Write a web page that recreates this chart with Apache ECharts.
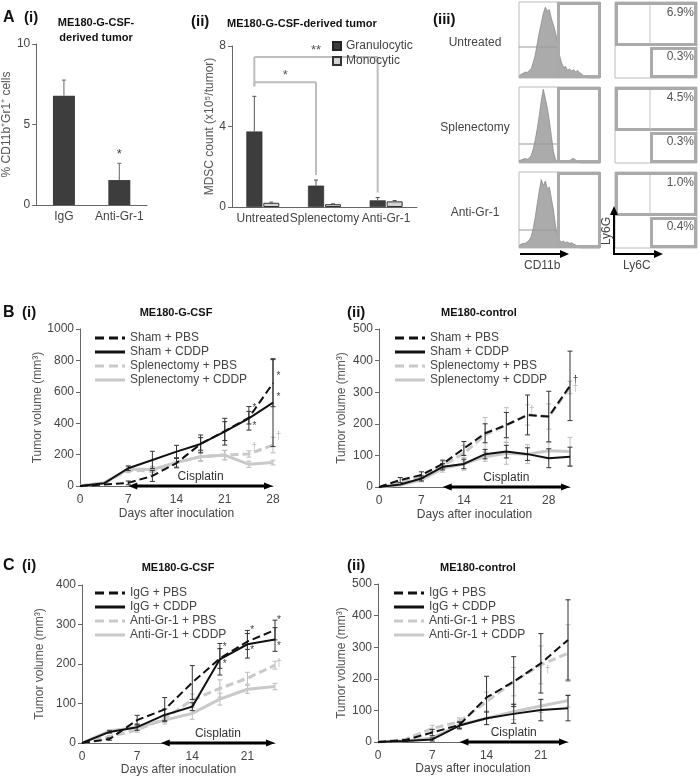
<!DOCTYPE html>
<html><head><meta charset="utf-8">
<script src="https://cdn.jsdelivr.net/npm/echarts@6/dist/echarts.min.js"></script>
<style>html,body{margin:0;padding:0;background:#fff}#c{width:700px;height:779px}</style>
</head><body><div id="c"></div>
<script>
// ================= DATA =================
// A(i)
const aiCategories = ['IgG', 'Anti-Gr-1'];
const aiValues = [6.79, 1.55];
const aiErrTop = [7.76, 2.59];
const aiSignif = ['', '*'];
// A(ii)
const aiiCategories = ['Untreated', 'Splenectomy', 'Anti-Gr-1'];
const aiiGranulocytic = [3.75, 1.06, 0.33];
const aiiGranErrTop = [5.5, 1.34, 0.47];
const aiiMonocytic = [0.21, 0.14, 0.28];
const aiiMonoErrTop = [0.24, 0.16, 0.32];
// brackets: [fromCategory, toCategory, level, label]
const aiiBrackets = [[0, 1, 6.2, '*'], [0, 2, 7.45, '**']];
// A(iii) flow cytometry
const facsGroups = ['Untreated', 'Splenectomy', 'Anti-Gr-1'];
const histChannels = [0,1,2,3,4,5,6,7,8,9,10,11,12,13,14,15,16,17,18,19,20,21,22,23,24,25,26,27,28,29,30,31,32,33,34,35,36,37,38,39,40];
const histUntreated = [0.02,0.05,0.06,0.08,0.07,0.1,0.12,0.2,0.3,0.45,0.6,0.72,0.85,0.93,0.88,0.9,0.78,0.7,0.6,0.48,0.3,0.2,0.14,0.15,0.1,0.12,0.09,0.11,0.08,0.1,0.07,0.05,0.03,0.01,0,0,0,0,0,0,0];
const histSplenectomy = [0.03,0.04,0.05,0.06,0.05,0.06,0.1,0.18,0.3,0.45,0.62,0.82,0.97,0.85,0.72,0.55,0.35,0.15,0.05,0.02,0.02,0.01,0.01,0.01,0.01,0.03,0.05,0.06,0.04,0.02,0,0,0,0,0,0,0,0,0,0,0];
const histAntiGr1 = [0.03,0.05,0.06,0.06,0.08,0.1,0.15,0.25,0.4,0.58,0.75,0.9,0.82,0.88,0.78,0.8,0.65,0.5,0.3,0.15,0.1,0.08,0.09,0.07,0.08,0.06,0.07,0.05,0.04,0.02,0,0,0,0,0,0,0,0,0,0,0];
const pctLy6G = ['6.9%', '4.5%', '1.0%'];
const pctLy6C = ['0.3%', '0.3%', '0.4%'];
// B(i) ME180-G-CSF
const bDaysG = [0, 3.5, 7, 10.5, 14, 17.5, 21, 24.5, 28];
const bG_shamPBS = [0, 10, 20, 64, 146, 268, 350, 435, 655];
const bG_shamPBS_err = [0, 0, 12, 35, 30, 40, 60, 40, 150];
const bG_shamCDDP = [0, 17, 113, 166, 219, 268, 346, 431, 531];
const bG_shamCDDP_err = [0, 0, 15, 55, 40, 57, 85, 75, 280];
const bG_splPBS = [0, 20, 100, 95, 150, 187, 197, 204, 261];
const bG_splPBS_err = [0, 0, 15, 25, 30, 30, 30, 20, 50];
const bG_splCDDP = [0, 20, 108, 105, 150, 187, 197, 138, 149];
const bG_splCDDP_err = [0, 0, 15, 20, 25, 25, 30, 20, 15];
const bG_annotations = [[28.8, 700, '*', 'k'], [28.8, 565, '*', 'k'], [25.3, 495, '*', 'k'], [25.3, 382, '*', 'k'], [25.3, 250, '†', 'g'], [28.8, 314, '†', 'g']];
const bG_cisplatin = [7, 28];
// B(ii) ME180-control
const bDaysC = [0, 3.5, 7, 10.5, 14, 17.5, 21, 24.5, 28, 31.5];
const bC_shamPBS = [0, 22, 38, 73, 122, 170, 196, 228, 223, 320];
const bC_shamPBS_err = [0, 8, 10, 12, 22, 30, 40, 63, 80, 110];
const bC_shamCDDP = [0, 8, 27, 64, 73, 104, 112, 104, 91, 96];
const bC_shamCDDP_err = [0, 0, 8, 10, 15, 15, 20, 20, 30, 30];
const bC_splPBS = [0, 15, 30, 68, 107, 165, 196, 228, 223, 315];
const bC_splPBS_err = [0, 0, 8, 12, 25, 55, 55, 32, 40, 20];
const bC_splCDDP = [0, 6, 22, 59, 73, 96, 107, 104, 115, 112];
const bC_splCDDP_err = [0, 0, 6, 12, 20, 15, 35, 30, 25, 45];
const bC_annotations = [[32.4, 339, '†', 'k'], [32.4, 313, '†', 'g'], [25.2, 244, '†', 'g']];
const bC_cisplatin = [10.5, 31.5];
// C(i) ME180-G-CSF
const cDays = [0, 3.5, 7, 10.5, 14, 17.5, 21, 24.5];
const cG_igPBS = [0, 10, 58, 85, 153, 214, 257, 286];
const cG_igPBS_err = [0, 3, 12, 30, 43, 25, 20, 25];
const cG_igCDDP = [0, 28, 40, 71, 92, 212, 250, 262];
const cG_igCDDP_err = [0, 3, 8, 15, 10, 40, 35, 30];
const cG_agPBS = [0, 16, 33, 62, 109, 138, 164, 197];
const cG_agPBS_err = [0, 3, 6, 10, 15, 22, 15, 10];
const cG_agCDDP = [0, 31, 39, 58, 75, 111, 136, 143];
const cG_agCDDP_err = [0, 3, 5, 10, 15, 15, 10, 8];
const cG_annotations = [[25, 311, '*', 'k'], [25, 244, '*', 'k'], [21.6, 286, '*', 'k'], [21.6, 235, '*', 'k'], [18.1, 242, '*', 'k'], [18.1, 200, '*', 'k'], [25, 202, '†', 'g']];
const cG_cisplatin = [10, 24.5];
// C(ii) ME180-control
const cC_igPBS = [0, 6, 30, 54, 141, 191, 249, 323];
const cC_igPBS_err = [0, 2, 10, 10, 67, 79, 94, 127];
const cC_igCDDP = [0, 3, 8, 52, 75, 89, 101, 107];
const cC_igCDDP_err = [0, 2, 5, 10, 20, 30, 34, 40];
const cC_agPBS = [0, 8, 43, 64, 128, 191, 244, 281];
const cC_agPBS_err = [0, 2, 10, 12, 30, 45, 60, 90];
const cC_agCDDP = [0, 4, 12, 54, 75, 96, 114, 131];
const cC_agCDDP_err = [0, 2, 5, 15, 20, 25, 20, 20];
const cC_annotations = [[21.9, 228, '†', 'g']];
const cC_cisplatin = [10.5, 24.5];

const namesB = ['Sham + PBS', 'Sham + CDDP', 'Splenectomy + PBS', 'Splenectomy + CDDP'];
const namesC = ['IgG + PBS', 'IgG + CDDP', 'Anti-Gr-1 + PBS', 'Anti-Gr-1 + CDDP'];

// ================= STYLE / HELPERS =================
const FONT = '"Liberation Sans", Arial, sans-serif';
const TXT = '#444';
const BLACK = '#111';
const GREY = '#c9c9c9';
const ERRK = '#333';
const ERRG = '#bcbcbc';
const ICON_SOLID = 'path://M0,0H30V3H0Z';
const ICON_DASH = 'path://M0,0H9V3H0Z M14,0H23V3H14Z M27,0H30V3H27Z';
const chart = echarts.init(document.getElementById('c'));

const grids = [], xAxes = [], yAxes = [], series = [], legends = [], graphics = [];

function addGrid(g, xa, ya) {
  const gi = grids.length;
  grids.push(Object.assign({containLabel: false}, g));
  xAxes.push(Object.assign({gridIndex: gi}, xa));
  yAxes.push(Object.assign({gridIndex: gi}, ya));
  return gi;
}
const axisLineStyle = {show: true, lineStyle: {color: '#666', width: 1}};
const lblStyle = {color: TXT, fontSize: 12, fontFamily: FONT};

function lineX(max, nameGap) {
  return {type: 'value', min: 0, max: max, interval: 7, axisLine: axisLineStyle, axisTick: {show: false},
    splitLine: {show: false}, axisLabel: Object.assign({margin: 8, formatter: v => (v % 7 === 0 ? String(v) : '')}, lblStyle),
    name: 'Days after inoculation', nameLocation: 'middle', nameGap: nameGap,
    nameTextStyle: {color: TXT, fontSize: 12, fontFamily: FONT}};
}
function lineY(max, interval, nameGap) {
  return {type: 'value', min: 0, max: max, interval: interval, axisLine: axisLineStyle,
    axisTick: {show: true, length: 4, lineStyle: {color: '#666'}}, splitLine: {show: false},
    axisLabel: Object.assign({margin: 6, formatter: v => String(v)}, lblStyle),
    name: 'Tumor volume (mm³)', nameLocation: 'middle', nameGap: nameGap,
    nameTextStyle: {color: '#555', fontSize: 12, fontFamily: FONT}};
}
function lineSeries(name, gi, days, vals, color, dashed, width, z) {
  return {type: 'line', name: name, xAxisIndex: gi, yAxisIndex: gi, data: days.map((d, i) => [d, vals[i]]),
    symbol: 'none', showSymbol: false, lineStyle: {color: color, width: width, type: dashed ? [8, 4] : 'solid'},
    itemStyle: {color: color}, z: z, animation: false};
}
function errSeries(gi, days, vals, errs, color, z) {
  const data = [];
  days.forEach((d, i) => { if (errs[i] > 0) data.push([d, Math.max(0, vals[i] - errs[i]), vals[i] + errs[i]]); });
  return {type: 'custom', xAxisIndex: gi, yAxisIndex: gi, data: data, silent: true, z: z, animation: false,
    renderItem: (p, api) => {
      const x = api.value(0);
      const lo = api.coord([x, api.value(1)]), hi = api.coord([x, api.value(2)]);
      const c = 2.5, st = {stroke: color, lineWidth: 1};
      return {type: 'group', children: [
        {type: 'line', shape: {x1: lo[0], y1: lo[1], x2: hi[0], y2: hi[1]}, style: st},
        {type: 'line', shape: {x1: lo[0] - c, y1: lo[1], x2: lo[0] + c, y2: lo[1]}, style: st},
        {type: 'line', shape: {x1: hi[0] - c, y1: hi[1], x2: hi[0] + c, y2: hi[1]}, style: st}]};
    }};
}
function cisSeries(gi, range) {
  return {type: 'custom', xAxisIndex: gi, yAxisIndex: gi, data: [range], silent: true, z: 20, animation: false,
    renderItem: (p, api) => {
      const a = api.coord([api.value(0), 0]), b = api.coord([api.value(1), 0]);
      const y = a[1], h = 9, w = 3.5;
      return {type: 'group', children: [
        {type: 'line', shape: {x1: a[0] + h - 1, y1: y, x2: b[0] - h + 1, y2: y}, style: {stroke: '#000', lineWidth: 3}},
        {type: 'polygon', shape: {points: [[a[0], y], [a[0] + h, y - w], [a[0] + h, y + w]]}, style: {fill: '#000'}},
        {type: 'polygon', shape: {points: [[b[0], y], [b[0] - h, y - w], [b[0] - h, y + w]]}, style: {fill: '#000'}},
        {type: 'text', x: (a[0] + b[0]) / 2, y: y - 3, style: {text: 'Cisplatin', fill: '#333', font: '12px ' + FONT,
          align: 'center', textAlign: 'center', verticalAlign: 'bottom', textVerticalAlign: 'bottom'}}]};
    }};
}
function annSeries(gi, anns) {
  return {type: 'custom', xAxisIndex: gi, yAxisIndex: gi, data: anns.map(a => [a[0], a[1]]), silent: true, z: 25, animation: false,
    renderItem: (p, api) => {
      const a = anns[p.dataIndex];
      const pt = api.coord([a[0], a[1]]);
      return {type: 'text', x: pt[0], y: pt[1], style: {text: a[2], fill: a[3] === 'k' ? '#444' : '#bbb',
        font: '10px ' + FONT, align: 'center', textAlign: 'center', verticalAlign: 'middle', textVerticalAlign: 'middle'}};
    }};
}
function addLinePanel(gi, days, sets, names) {
  series.push(errSeries(gi, days, sets[3][0], sets[3][1], ERRG, 2));
  series.push(errSeries(gi, days, sets[2][0], sets[2][1], ERRG, 2));
  series.push(lineSeries(names[3], gi, days, sets[3][0], GREY, false, 3, 4));
  series.push(lineSeries(names[2], gi, days, sets[2][0], GREY, true, 3, 5));
  series.push(errSeries(gi, days, sets[1][0], sets[1][1], ERRK, 6));
  series.push(errSeries(gi, days, sets[0][0], sets[0][1], ERRK, 6));
  series.push(lineSeries(names[1], gi, days, sets[1][0], BLACK, false, 2, 8));
  series.push(lineSeries(names[0], gi, days, sets[0][0], BLACK, true, 2, 9));
}
function addLegend(left, top, names) {
  legends.push({left: left, top: top, orient: 'vertical', itemWidth: 30, itemHeight: 3, itemGap: 2, selectedMode: false,
    data: [{name: names[0], icon: ICON_DASH}, {name: names[1], icon: ICON_SOLID}, {name: names[2], icon: ICON_DASH}, {name: names[3], icon: ICON_SOLID}],
    textStyle: {color: TXT, fontSize: 12, fontFamily: FONT, lineHeight: 12}});
}

// graphic helpers
function gtext(x, y, text, o) {
  o = o || {};
  graphics.push({type: 'text', x: x, y: y, rotation: o.rot || 0, z: 100, silent: true,
    style: {text: text, fill: o.color || '#222', font: (o.weight || 'normal') + ' ' + (o.size || 12) + 'px ' + FONT,
      align: o.align || 'left', textAlign: o.align || 'left', verticalAlign: 'middle', textVerticalAlign: 'middle'}});
}
function grect(x, y, w, h, stroke, lw) {
  graphics.push({type: 'rect', z: 90, silent: true, shape: {x: x, y: y, width: w, height: h}, style: {fill: 'none', stroke: stroke, lineWidth: lw}});
}
function gline(x1, y1, x2, y2, stroke, lw) {
  graphics.push({type: 'line', z: 90, silent: true, shape: {x1: x1, y1: y1, x2: x2, y2: y2}, style: {stroke: stroke, lineWidth: lw}});
}
function gtri(points) {
  graphics.push({type: 'polygon', z: 90, silent: true, shape: {points: points}, style: {fill: '#000'}});
}

// ================= A(i) =================
const gA1 = addGrid({left: 34, top: 44, width: 113, height: 161},
  {type: 'category', data: aiCategories, axisLine: axisLineStyle, axisTick: {show: false}, axisLabel: Object.assign({margin: 6, interval: 0}, lblStyle)},
  {type: 'value', min: 0, max: 10, interval: 5, axisLine: axisLineStyle, axisTick: {show: true, length: 4, lineStyle: {color: '#666'}},
    splitLine: {show: false}, axisLabel: Object.assign({margin: 6}, lblStyle),
    name: '% CD11b⁺Gr1⁺ cells', nameLocation: 'middle', nameGap: 16, nameTextStyle: {color: '#555', fontSize: 12, fontFamily: FONT}});
series.push({type: 'bar', xAxisIndex: gA1, yAxisIndex: gA1, data: aiValues, barWidth: 22, itemStyle: {color: '#3d3d3d'}, animation: false});
series.push({type: 'custom', xAxisIndex: gA1, yAxisIndex: gA1, data: aiValues.map((v, i) => [i, v, aiErrTop[i]]), z: 5, animation: false,
  renderItem: (p, api) => {
    const b = api.coord([api.value(0), api.value(1)]), t = api.coord([api.value(0), api.value(2)]);
    const st = {stroke: '#666', lineWidth: 1};
    const ch = [{type: 'line', shape: {x1: b[0], y1: b[1], x2: t[0], y2: t[1]}, style: st},
      {type: 'line', shape: {x1: t[0] - 2, y1: t[1], x2: t[0] + 2, y2: t[1]}, style: st}];
    const s = aiSignif[p.dataIndex];
    if (s) ch.push({type: 'text', x: t[0], y: t[1] - 9, style: {text: s, fill: '#444', font: '13px ' + FONT, align: 'center', textAlign: 'center', verticalAlign: 'middle', textVerticalAlign: 'middle'}});
    return {type: 'group', children: ch};
  }});

// ================= A(ii) =================
const gA2 = addGrid({left: 232, top: 46, width: 185, height: 161},
  {type: 'category', data: aiiCategories, axisLine: axisLineStyle, axisTick: {show: false}, axisLabel: Object.assign({margin: 6, interval: 0}, lblStyle)},
  {type: 'value', min: 0, max: 8, interval: 4, axisLine: axisLineStyle, axisTick: {show: true, length: 4, lineStyle: {color: '#666'}},
    splitLine: {show: false}, axisLabel: Object.assign({margin: 6}, lblStyle),
    name: 'MDSC count (x10⁵/tumor)', nameLocation: 'middle', nameGap: 14, nameTextStyle: {color: '#555', fontSize: 12, fontFamily: FONT}});
series.push({type: 'bar', name: 'Granulocytic', xAxisIndex: gA2, yAxisIndex: gA2, data: aiiGranulocytic, barWidth: 16, barGap: '6%',
  itemStyle: {color: '#3d3d3d', borderColor: '#222', borderWidth: 0.5}, animation: false});
series.push({type: 'bar', name: 'Monocytic', xAxisIndex: gA2, yAxisIndex: gA2, data: aiiMonocytic, barWidth: 16, barGap: '6%',
  itemStyle: {color: '#d4d4d4', borderColor: '#333', borderWidth: 1}, animation: false});
const barOff = 8.5;
function aiiErr(vals, tops, off) {
  return {type: 'custom', xAxisIndex: gA2, yAxisIndex: gA2, data: vals.map((v, i) => [i, v, tops[i]]), z: 5, animation: false,
    renderItem: (p, api) => {
      const b = api.coord([api.value(0), api.value(1)]), t = api.coord([api.value(0), api.value(2)]);
      const x = b[0] + off, st = {stroke: '#555', lineWidth: 1};
      return {type: 'group', children: [
        {type: 'line', shape: {x1: x, y1: b[1], x2: x, y2: t[1]}, style: st},
        {type: 'line', shape: {x1: x - 2, y1: t[1], x2: x + 2, y2: t[1]}, style: st}]};
    }};
}
series.push(aiiErr(aiiGranulocytic, aiiGranErrTop, -barOff));
series.push(aiiErr(aiiMonocytic, aiiMonoErrTop, barOff));
series.push({type: 'custom', xAxisIndex: gA2, yAxisIndex: gA2, data: aiiBrackets.map(b => [b[0], b[1], b[2]]), z: 6, animation: false,
  renderItem: (p, api) => {
    const br = aiiBrackets[p.dataIndex];
    const L = api.coord([br[0], br[2]]), R = api.coord([br[1], br[2]]);
    const xl = L[0] - barOff, xr = R[0] - barOff, y = L[1];
    const leftEnd = api.coord([br[0], aiiGranErrTop[br[0]]])[1] - 10;
    const rightEnd = api.coord([br[1], aiiGranErrTop[br[1]]])[1] - 5;
    const st = {stroke: '#bdbdbd', lineWidth: 2};
    return {type: 'group', children: [
      {type: 'line', shape: {x1: xl, y1: y, x2: xr, y2: y}, style: st},
      {type: 'line', shape: {x1: xl, y1: y, x2: xl, y2: leftEnd}, style: st},
      {type: 'line', shape: {x1: xr, y1: y, x2: xr, y2: rightEnd}, style: st},
      {type: 'text', x: (xl + xr) / 2, y: y - 7, style: {text: br[3], fill: '#555', font: '13px ' + FONT, align: 'center', textAlign: 'center', verticalAlign: 'middle', textVerticalAlign: 'middle'}}]};
  }});
legends.push({left: 327, top: 35, orient: 'vertical', itemWidth: 8, itemHeight: 8, itemGap: 3, icon: 'rect', selectedMode: false,
  backgroundColor: 'rgba(255,255,255,0)', z: 10,
  data: ['Granulocytic', 'Monocytic'], textStyle: {color: TXT, fontSize: 12, fontFamily: FONT, lineHeight: 12}});

// ================= A(iii) =================
const rowTops = [2, 87, 172];
const histSets = [histUntreated, histSplenectomy, histAntiGr1];
const markerY = [45, 57, 58];
rowTops.forEach((top, r) => {
  const gh = addGrid({left: 519, top: top, width: 81, height: 76, show: true, borderColor: '#bbb', borderWidth: 1},
    {type: 'category', data: histChannels, boundaryGap: false, show: false},
    {type: 'value', min: 0, max: 1, show: false});
  series.push({type: 'line', xAxisIndex: gh, yAxisIndex: gh, data: histSets[r], symbol: 'none', showSymbol: false,
    lineStyle: {color: '#8a8a8a', width: 0.8}, areaStyle: {color: '#ababab', opacity: 1}, animation: false});
  addGrid({left: 615, top: top, width: 82, height: 76, show: true, borderColor: '#bbb', borderWidth: 1},
    {type: 'value', min: 0, max: 1, show: false}, {type: 'value', min: 0, max: 1, show: false});
  gline(519, top + markerY[r], 558, top + markerY[r], '#999', 1);
  grect(558.5, top + 1.5, 41, 73, '#aaa', 3);
  grect(616.5, top + 1.5, 79, 41, '#aaa', 3);
  gline(650, top + 3, 650, top + 42, '#c4c4c4', 1);
  grect(651.5, top + 46.5, 44, 28, '#aaa', 3);
  gtext(694, top + 11, pctLy6G[r], {align: 'right', color: '#555', size: 12});
  gtext(694, top + 55, pctLy6C[r], {align: 'right', color: '#555', size: 12});
  gtext(475, top + 41, facsGroups[r], {align: 'center', color: TXT, size: 12});
});
gline(520, 254, 561, 254, '#000', 2); gtri([[569, 254], [560, 250], [560, 258]]);
gtext(524, 266, 'CD11b', {color: TXT});
gline(614, 254, 614, 214, '#000', 2); gtri([[614, 206], [610, 215], [618, 215]]);
gline(613, 254, 655, 254, '#000', 2); gtri([[663, 254], [654, 250], [654, 258]]);
gtext(607, 231, 'Ly6G', {color: TXT, rot: Math.PI / 2, align: 'center'});
gtext(623, 266, 'Ly6C', {color: TXT});

// ================= B(i) =================
const gB1 = addGrid({left: 80, top: 329, width: 193, height: 157}, lineX(28, 22), lineY(1000, 200, 34));
addLinePanel(gB1, bDaysG, [[bG_shamPBS, bG_shamPBS_err], [bG_shamCDDP, bG_shamCDDP_err], [bG_splPBS, bG_splPBS_err], [bG_splCDDP, bG_splCDDP_err]], namesB);
series.push(cisSeries(gB1, bG_cisplatin));
series.push(annSeries(gB1, bG_annotations));
addLegend(90, 327, namesB);

// ================= B(ii) =================
const gB2 = addGrid({left: 379, top: 329, width: 191, height: 158}, lineX(31.5, 22), lineY(500, 100, 31));
addLinePanel(gB2, bDaysC, [[bC_shamPBS, bC_shamPBS_err], [bC_shamCDDP, bC_shamCDDP_err], [bC_splPBS, bC_splPBS_err], [bC_splCDDP, bC_splCDDP_err]], namesB);
series.push(cisSeries(gB2, bC_cisplatin));
series.push(annSeries(gB2, bC_annotations));
addLegend(390, 327, namesB);

// ================= C(i) =================
const gC1 = addGrid({left: 82, top: 585, width: 193, height: 158}, lineX(24.5, 20), lineY(400, 100, 36));
addLinePanel(gC1, cDays, [[cG_igPBS, cG_igPBS_err], [cG_igCDDP, cG_igCDDP_err], [cG_agPBS, cG_agPBS_err], [cG_agCDDP, cG_agCDDP_err]], namesC);
series.push(cisSeries(gC1, cG_cisplatin));
series.push(annSeries(gC1, cG_annotations));
addLegend(90, 582, namesC);

// ================= C(ii) =================
const gC2 = addGrid({left: 378, top: 584, width: 190, height: 158}, lineX(24.5, 20), lineY(500, 100, 29));
addLinePanel(gC2, cDays, [[cC_igPBS, cC_igPBS_err], [cC_igCDDP, cC_igCDDP_err], [cC_agPBS, cC_agPBS_err], [cC_agCDDP, cC_agCDDP_err]], namesC);
series.push(cisSeries(gC2, cC_cisplatin));
series.push(annSeries(gC2, cC_annotations));
addLegend(389, 582, namesC);

// ================= Titles & panel labels =================
gtext(3, 18, 'A', {weight: 'bold', size: 16, color: '#111'});
gtext(24, 18, '(i)', {weight: 'bold', size: 15, color: '#111'});
gtext(96, 23, 'ME180-G-CSF-', {weight: 'bold', size: 11, align: 'center', color: '#111'});
gtext(96, 38, 'derived tumor', {weight: 'bold', size: 11, align: 'center', color: '#111'});
gtext(191, 22, '(ii)', {weight: 'bold', size: 15, color: '#111'});
gtext(227, 24, 'ME180-G-CSF-derived tumor', {weight: 'bold', size: 11, color: '#111'});
gtext(433, 20, '(iii)', {weight: 'bold', size: 15, color: '#111'});
gtext(3, 313, 'B', {weight: 'bold', size: 16, color: '#111'});
gtext(22, 313, '(i)', {weight: 'bold', size: 15, color: '#111'});
gtext(347, 313, '(ii)', {weight: 'bold', size: 15, color: '#111'});
gtext(176, 313, 'ME180-G-CSF', {weight: 'bold', size: 11, align: 'center', color: '#111'});
gtext(479, 313, 'ME180-control', {weight: 'bold', size: 11, align: 'center', color: '#111'});
gtext(3, 566, 'C', {weight: 'bold', size: 16, color: '#111'});
gtext(22, 566, '(i)', {weight: 'bold', size: 15, color: '#111'});
gtext(347, 566, '(ii)', {weight: 'bold', size: 15, color: '#111'});
gtext(178, 568, 'ME180-G-CSF', {weight: 'bold', size: 11, align: 'center', color: '#111'});
gtext(478, 568, 'ME180-control', {weight: 'bold', size: 11, align: 'center', color: '#111'});

chart.setOption({
  animation: false,
  backgroundColor: '#fff',
  textStyle: {fontFamily: FONT},
  grid: grids, xAxis: xAxes, yAxis: yAxes, series: series, legend: legends, graphic: graphics
});
</script></body></html>
